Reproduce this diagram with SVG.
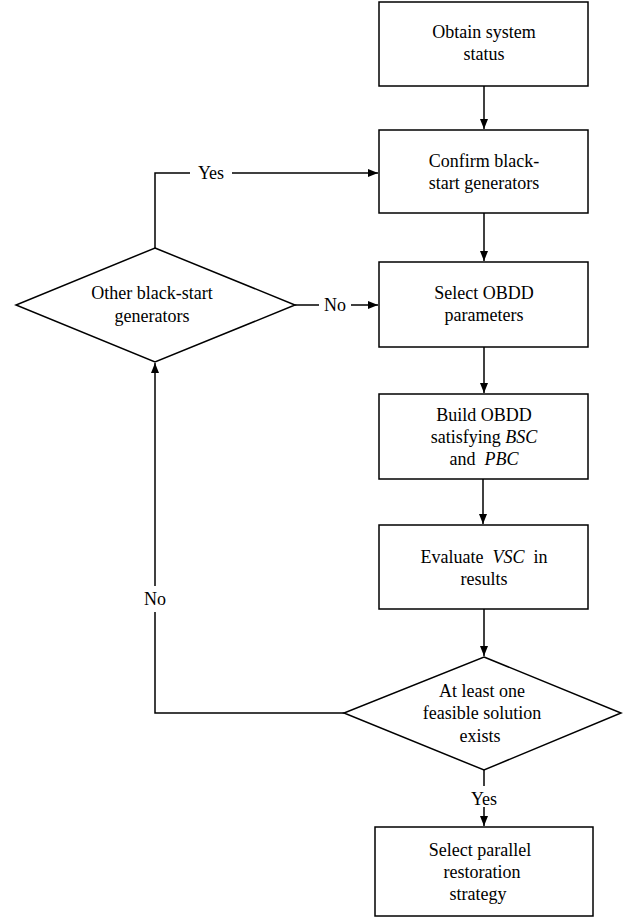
<svg xmlns="http://www.w3.org/2000/svg" width="630" height="917" viewBox="0 0 630 917">
<defs>
<marker id="ah" viewBox="0 0 10 8" refX="10" refY="4" markerWidth="10" markerHeight="8" markerUnits="userSpaceOnUse" orient="auto">
<path d="M0,0 L10,4 L0,8 Z" fill="#000"/>
</marker>
</defs>
<rect width="630" height="917" fill="#fff"/>
<g id="connectors" fill="none" stroke="#000" stroke-width="1.5">
<path d="M484,86 V129" marker-end="url(#ah)"/>
<path d="M484,213 V261" marker-end="url(#ah)"/>
<path d="M484,347 V393" marker-end="url(#ah)"/>
<path d="M483,479 V524" marker-end="url(#ah)"/>
<path d="M484,609 V656" marker-end="url(#ah)"/>
<path d="M484,770 V786"/>
<path d="M484,807 V826" marker-end="url(#ah)"/>
<path d="M155,248 V173 H190"/>
<path d="M232,173 H378" marker-end="url(#ah)"/>
<path d="M295,305 H319"/>
<path d="M351,305 H378" marker-end="url(#ah)"/>
<path d="M344,713 H155 V612"/>
<path d="M155,586 V363" marker-end="url(#ah)"/>
</g>
<g id="labels">
<text font-family="Liberation Serif" font-size="18" text-anchor="middle" x="211" y="179">Yes</text>
<text font-family="Liberation Serif" font-size="18" text-anchor="middle" x="335" y="311">No</text>
<text font-family="Liberation Serif" font-size="18" text-anchor="middle" x="155" y="605">No</text>
<text font-family="Liberation Serif" font-size="18" text-anchor="middle" x="484" y="805">Yes</text>
</g>
<g id="n1">
<rect x="379" y="2" width="209" height="84" fill="#fff" stroke="#000" stroke-width="1.5"/>
<text font-family="Liberation Serif" font-size="18" text-anchor="middle" x="484" y="38">Obtain system</text>
<text font-family="Liberation Serif" font-size="18" text-anchor="middle" x="484" y="60">status</text>
</g>
<g id="n2">
<rect x="379" y="130" width="209" height="83" fill="#fff" stroke="#000" stroke-width="1.5"/>
<text font-family="Liberation Serif" font-size="18" text-anchor="middle" x="484" y="167">Confirm black-</text>
<text font-family="Liberation Serif" font-size="18" text-anchor="middle" x="484" y="189">start generators</text>
</g>
<g id="n3">
<rect x="379" y="262" width="209" height="85" fill="#fff" stroke="#000" stroke-width="1.5"/>
<text font-family="Liberation Serif" font-size="18" text-anchor="middle" x="484" y="299">Select OBDD</text>
<text font-family="Liberation Serif" font-size="18" text-anchor="middle" x="484" y="321">parameters</text>
</g>
<g id="n4">
<rect x="379" y="394" width="209" height="85" fill="#fff" stroke="#000" stroke-width="1.5"/>
<text font-family="Liberation Serif" font-size="18" text-anchor="middle" x="484" y="421">Build OBDD</text>
<text font-family="Liberation Serif" font-size="18" text-anchor="middle" x="484" y="443">satisfying <tspan font-style="italic">BSC</tspan></text>
<text font-family="Liberation Serif" font-size="18" text-anchor="middle" x="484" y="465" xml:space="preserve">and  <tspan font-style="italic">PBC</tspan></text>
</g>
<g id="n5">
<rect x="379" y="525" width="209" height="84" fill="#fff" stroke="#000" stroke-width="1.5"/>
<text font-family="Liberation Serif" font-size="18" text-anchor="middle" x="484" y="563" xml:space="preserve">Evaluate  <tspan font-style="italic">VSC</tspan>  in</text>
<text font-family="Liberation Serif" font-size="18" text-anchor="middle" x="484" y="585">results</text>
</g>
<g id="d1">
<polygon points="155,248 295,305 155,362 16,305" fill="#fff" stroke="#000" stroke-width="1.5"/>
<text font-family="Liberation Serif" font-size="18" text-anchor="middle" x="152" y="299">Other black-start</text>
<text font-family="Liberation Serif" font-size="18" text-anchor="middle" x="152" y="322">generators</text>
</g>
<g id="d2">
<polygon points="484,657 621,713 484,770 344,713" fill="#fff" stroke="#000" stroke-width="1.5"/>
<text font-family="Liberation Serif" font-size="18" text-anchor="middle" x="482" y="697">At least one</text>
<text font-family="Liberation Serif" font-size="18" text-anchor="middle" x="482" y="719">feasible solution</text>
<text font-family="Liberation Serif" font-size="18" text-anchor="middle" x="480" y="742">exists</text>
</g>
<g id="n6">
<rect x="375" y="827" width="218" height="89" fill="#fff" stroke="#000" stroke-width="1.5"/>
<text font-family="Liberation Serif" font-size="18" text-anchor="middle" x="480" y="856">Select parallel</text>
<text font-family="Liberation Serif" font-size="18" text-anchor="middle" x="482" y="878">restoration</text>
<text font-family="Liberation Serif" font-size="18" text-anchor="middle" x="478" y="900">strategy</text>
</g>
</svg>
